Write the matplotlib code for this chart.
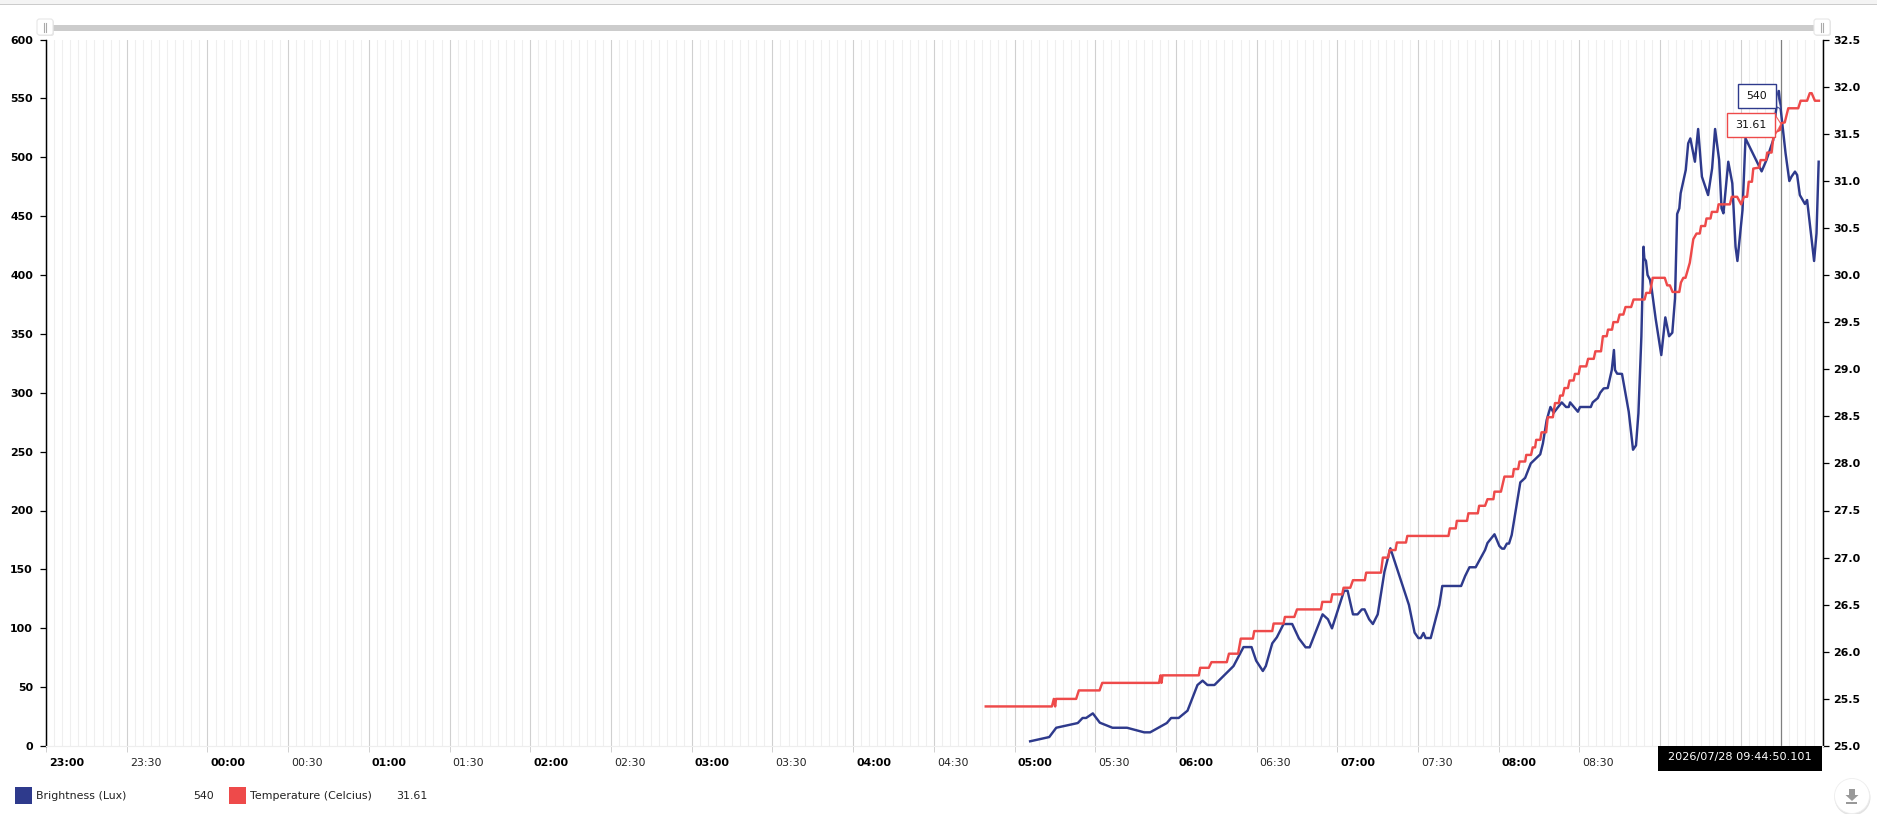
import matplotlib
matplotlib.use("Agg")
import matplotlib.pyplot as plt
from matplotlib.patches import Rectangle, FancyBboxPatch, Polygon, Circle
from matplotlib.transforms import ScaledTranslation

W, H = 1877, 814

# minutes relative to 00:00 of the chart day
brightness_time = [305.8,312.9,315.5,323.5,325.3,326.6,329.1,331.7,336.4,341.8,348.2,350.4,356.6,358.2,361,364.3,368,369.9,371.7,374.3,381.4,385.1,388.1,389.8,392.3,393.4,395.8,397.5,400,403.2,405.7,408.2,409.7,414.5,416.5,418,422.5,423.8,425.8,427.5,429.1,430.1,431.8,433.2,435,437.5,439.7,446.6,448.7,450.1,451,452,452.8,454.7,457.9,459,466,467.5,469.1,471.4,474.9,475.8,478.4,480.2,481.2,482,483,483.8,484.8,488,489.8,491.9,495.4,496.4,497.8,499.2,500.4,503.4,505,506,506.5,509.4,510.2,514.2,514.9,516.8,517.7,519,520.5,522,522.8,523.2,524,525.8,528.3,529.9,531,531.9,533,533.8,534.1,534.7,535.3,536.2,536.9,538.3,540.4,541.9,543.3,544.5,545.5,546.3,547.1,547.6,549.5,550.4,551.2,552.9,554.1,555.5,557.8,559.3,560.4,561.9,562.8,563.5,565.3,566.8,568,568.7,570.6,571.7,577.7,579.5,582,582.9,584.1,584.83,586.6,588,588.8,590.1,590.9,591.9,593.8,594.6,595.6,597.2,598.1,598.9]
brightness_lux = [4,7.6,15.5,19.5,23.8,23.8,27.7,19.8,15.5,15.5,11.6,11.6,19.5,23.8,23.8,30,51.8,55.5,51.8,51.8,67.9,84,84,72.5,63.7,67.9,87.2,92.3,103.6,103.6,91.4,83.8,83.8,111.8,107.6,99.9,131.9,131.9,111.8,111.8,116,116,107.6,103.6,111.8,148,167.9,119.8,96.3,91.7,91.7,96,91.7,91.7,119.8,135.9,135.9,144.4,151.8,151.8,166.5,172.4,179.8,169.9,167.6,167.6,171.9,171.9,179.2,223.9,227.7,240,247.7,257,276.8,287.9,283,291.8,287.9,287.9,291.8,283.9,287.9,287.9,291.8,295.5,300,303.7,304,319.3,336.3,319.3,316.2,316,283.9,251.6,255.3,282.5,347.6,424,414,412,400,396,387,363,332,364,348,351,380,451.8,456.6,469.4,489.2,511.8,516,496.2,524,483.5,467.9,490.6,524,497.7,456.6,452.4,496.2,477.8,424,411.9,455.2,516,488,497.7,514.6,537.3,556.3,540,503.3,479.8,483.5,487.8,484.9,467.9,460.3,463.7,443.9,411.9,435.4,496.2]

temperature_time = [289.3,313.9,314.6,315.1,315.4,322.9,323.9,331.6,332.6,353.7,354.3,354.6,355,368.5,369,372.2,373.2,378.9,379.7,383.1,384.1,388.6,389.1,395.8,396.3,400,400.5,404,405,413.9,414.4,417.6,418.1,421.8,422.3,424.8,425.8,430.2,430.7,436.2,436.9,438.9,439.4,441.6,442.1,445.5,446,461.3,461.8,464,464.4,468.2,468.7,472.2,472.7,474.9,475.8,478,478.4,480.8,482.1,485.2,485.6,487.2,487.7,489.8,490.2,492,492.6,493.5,493.9,495.4,495.9,497.6,498.2,500.1,500.9,502.3,502.8,503.8,504.4,505.7,506.3,507.8,508.3,509.7,510.2,512.5,513.2,515.3,515.9,518,518.7,520.1,520.6,522.1,522.6,524.2,524.9,526.3,527.1,529.2,530.1,534.2,534.8,536.2,537.2,541.7,542.6,543.6,544.6,547.1,547.7,548.6,549.4,551,552.3,553.5,554.7,555.2,556.7,557.2,558.7,559.2,561.2,561.7,565.9,566.6,568.6,570.1,571.1,572.3,572.9,574.1,574.6,576.8,577.3,579.3,579.8,581.4,582,583,584.5,584.83,586.3,587.6,591.3,592.2,594.6,595.6,596.3,597.5,599]
temperature_c = [25.42,25.42,25.5,25.42,25.5,25.5,25.59,25.59,25.67,25.67,25.75,25.67,25.75,25.75,25.83,25.83,25.89,25.89,25.98,25.98,26.14,26.14,26.22,26.22,26.3,26.3,26.37,26.37,26.45,26.45,26.53,26.53,26.61,26.61,26.68,26.68,26.76,26.76,26.84,26.84,27,27,27.08,27.08,27.16,27.16,27.23,27.23,27.31,27.31,27.39,27.39,27.47,27.47,27.55,27.55,27.62,27.62,27.7,27.7,27.86,27.86,27.94,27.94,28.02,28.02,28.09,28.09,28.17,28.17,28.25,28.25,28.33,28.33,28.49,28.49,28.64,28.64,28.72,28.72,28.8,28.8,28.88,28.88,28.95,28.95,29.03,29.03,29.11,29.11,29.19,29.19,29.35,29.35,29.42,29.42,29.5,29.5,29.58,29.58,29.66,29.66,29.74,29.74,29.81,29.81,29.97,29.97,29.89,29.89,29.82,29.82,29.92,29.97,29.97,30.13,30.38,30.44,30.44,30.52,30.52,30.6,30.6,30.67,30.67,30.75,30.75,30.83,30.83,30.75,30.83,30.83,30.99,30.99,31.13,31.14,31.22,31.22,31.3,31.3,31.45,31.52,31.54,31.61,31.62,31.77,31.77,31.85,31.85,31.93,31.93,31.85,31.85]

major_ticks = list(range(-60, 600, 30))
tick_labels = ["23:00","23:30","00:00","00:30","01:00","01:30","02:00","02:30","03:00","03:30","04:00","04:30",
               "05:00","05:30","06:00","06:30","07:00","07:30","08:00","08:30","",""]
minor_ticks = list(range(-60, 601, 3))
lux_ticks = [0,50,100,150,200,250,300,350,400,450,500,550,600]
temp_ticks = [25.0,25.5,26.0,26.5,27.0,27.5,28.0,28.5,29.0,29.5,30.0,30.5,31.0,31.5,32.0,32.5]
cursor_time = 584.83
cursor_label = "2026/07/28 09:44:50.101"
lux_name, lux_value = "Brightness (Lux)", "540"
temp_name, temp_value = "Temperature (Celcius)", "31.61"

BLUE = "#2e3a8c"
RED = "#ee4a4a"
plt.rcParams["font.family"] = "DejaVu Sans"
FS = 7.9

fig = plt.figure(figsize=(W/100, H/100), dpi=100, facecolor="white")
L, R, T, B = 45.5, 1822.7, 39.5, 746.0
ax = fig.add_axes([L/W, 1-B/H, (R-L)/W, (B-T)/H])
ax.set_xlim(-60.2, 600.4)
ax.set_ylim(0, 600)
ax2 = ax.twinx()
ax2.set_ylim(25, 32.5)
ax.set_zorder(1); ax2.set_zorder(2); ax2.patch.set_visible(False)

# grid
ax.set_xticks(major_ticks)
ax.set_xticklabels(tick_labels)
ax.set_xticks(minor_ticks, minor=True)
ax.grid(True, axis="x", which="minor", color="#efefef", lw=0.8)
ax.grid(True, axis="x", which="major", color="#d0d0d0", lw=0.8)
ax.tick_params(axis="x", which="major", length=4.3, width=0.7, color="#d0d0d0", pad=4.5, labelsize=FS, labelcolor="#222222")
ax.tick_params(axis="x", which="minor", length=0)
off = ScaledTranslation(3/100, 0, fig.dpi_scale_trans)
for lab, txt in zip(ax.get_xticklabels(), tick_labels):
    lab.set_horizontalalignment("left")
    lab.set_transform(lab.get_transform() + off)
    if txt.endswith(":00"):
        lab.set_fontweight("bold")
        lab.set_color("black")

ax.set_yticks(lux_ticks)
ax.tick_params(axis="y", length=4, width=0.9, pad=5, labelsize=FS)
for lab in ax.get_yticklabels():
    lab.set_fontweight("bold")
ax2.set_yticks(temp_ticks)
ax2.set_yticklabels([f"{v:.1f}" for v in temp_ticks])
ax2.tick_params(axis="y", length=4, width=0.9, pad=3.5, labelsize=FS)
for lab in ax2.get_yticklabels():
    lab.set_fontweight("bold")

for a in (ax, ax2):
    a.spines["top"].set_visible(False)
    a.spines["bottom"].set_color("#eeeeee")
    a.spines["left"].set_linewidth(0.9)
    a.spines["right"].set_linewidth(0.9)

ax.axvline(cursor_time, color="#808080", lw=0.9, zorder=2)
ax.plot(brightness_time, brightness_lux, color=BLUE, lw=1.75, zorder=3, solid_joinstyle="round")
ax2.plot(temperature_time, temperature_c, color=RED, lw=1.75, zorder=4, solid_joinstyle="round")

# page chrome in pixel coordinates
ov = fig.add_axes([0, 0, 1, 1], zorder=5)
ov.set_xlim(0, W); ov.set_ylim(H, 0); ov.axis("off"); ov.patch.set_visible(False)

ov.add_patch(Rectangle((0, 0), W, 4, fc="#f4f4f4", ec="none"))
ov.add_patch(Rectangle((0, 4), W, 1.2, fc="#cccccc", ec="none"))

# range slider
ov.add_patch(Rectangle((45, 25), 1777, 5.7, fc="#cccccc", ec="none"))
for x0 in (37, 1814):
    ov.add_patch(FancyBboxPatch((x0+1, 20), 16, 16, boxstyle="round,pad=0,rounding_size=2.5",
                                fc="#d8d8d8", ec="none", alpha=0.6))
    ov.add_patch(FancyBboxPatch((x0, 19), 16, 16, boxstyle="round,pad=0,rounding_size=2.5",
                                fc="white", ec="#e6e6e6", lw=0.8))
    ov.plot([x0+7, x0+7], [22.5, 31.5], color="#aaaaaa", lw=0.8)
    ov.plot([x0+9.5, x0+9.5], [22.5, 31.5], color="#aaaaaa", lw=0.8)

# value tags
def tag(x0, x1, y0, y1, tip_x, tip_y, color, label):
    ov.add_patch(Polygon([(x1, y0+2), (tip_x, tip_y), (x1, y1-2)], closed=True, fc="white", ec=color, lw=0.8, alpha=0.85))
    ov.add_patch(Rectangle((x0, y0), x1-x0, y1-y0, fc="white", ec=color, lw=1.0))
    ov.text((x0+x1)/2, (y0+y1)/2, label, ha="center", va="center", fontsize=FS, color="#111111")

tag(1738.3, 1775.7, 84.3, 108.3, 1781, 109, BLUE, lux_value)
tag(1726.7, 1775, 112.7, 136.7, 1781, 124, RED, temp_value)

# cursor time box
ov.add_patch(Rectangle((1658, 746), 163.7, 24.7, fc="black", ec="none"))
ov.text(1739.8, 757, cursor_label, ha="center", va="center", color="white", fontsize=8.1)

# legend
ov.add_patch(Rectangle((15, 787.3), 17, 17, fc=BLUE, ec="none"))
ov.text(36, 796, lux_name, ha="left", va="center", fontsize=FS, color="#222222")
ov.text(193.3, 796, lux_value, ha="left", va="center", fontsize=FS, color="#222222")
ov.add_patch(Rectangle((229, 787.3), 17, 17, fc=RED, ec="none"))
ov.text(250, 796, temp_name, ha="left", va="center", fontsize=FS, color="#222222")
ov.text(396, 796, temp_value, ha="left", va="center", fontsize=FS, color="#222222")

# download button
ov.add_patch(Circle((1852.5, 797.5), 18, fc="#cccccc", ec="none", alpha=0.55))
ov.add_patch(Circle((1852, 796), 17.5, fc="white", ec="#eeeeee", lw=0.6))
ov.add_patch(Polygon([(1849, 789), (1855, 789), (1855, 795), (1858.5, 795), (1852, 801), (1845.5, 795), (1849, 795)],
                     closed=True, fc="#999999", ec="none"))
ov.add_patch(Rectangle((1846.5, 802), 11, 1.6, fc="#999999", ec="none"))

fig.savefig("out.png", dpi=100)
